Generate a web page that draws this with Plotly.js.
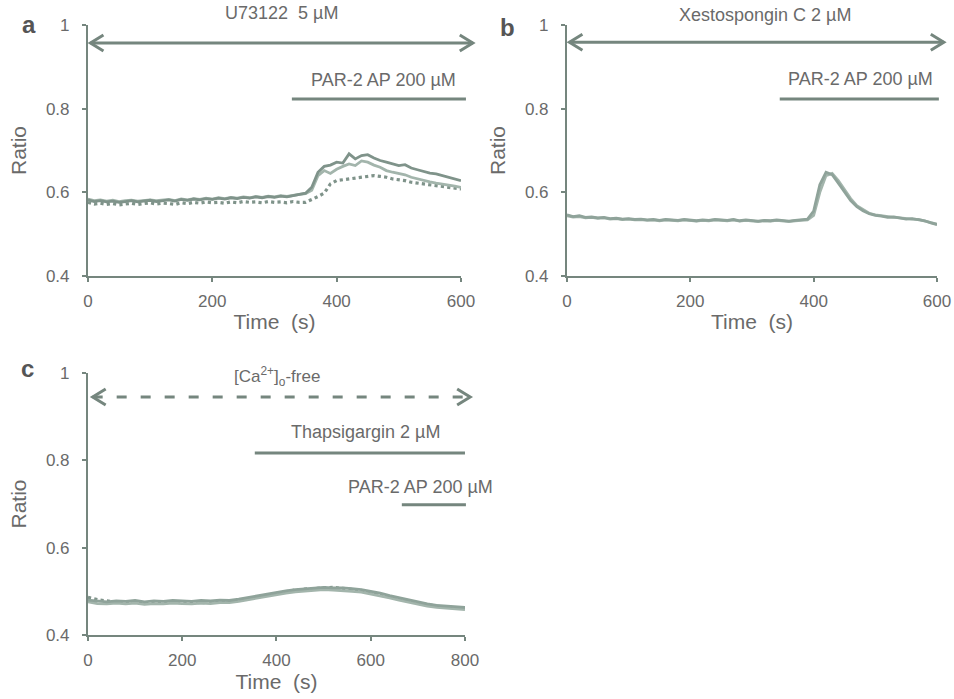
<!DOCTYPE html>
<html><head><meta charset="utf-8">
<script src="https://cdn.plot.ly/plotly-3.0.1.min.js"></script>
<style>html,body{margin:0;padding:0;background:#fff}#chart{width:954px;height:699px}</style>
</head><body><div id="chart"></div>
<script>
// ---- data ----
const timeAB = [0,10,20,30,40,50,60,70,80,90,100,110,120,130,140,150,160,170,180,190,200,210,220,230,240,250,260,270,280,290,300,310,320,330,340,350,360,370,380,390,400,410,420,430,440,450,460,470,480,490,500,510,520,530,540,550,560,570,580,590,600];
const ratioA1 = [0.582,0.578,0.580,0.577,0.579,0.576,0.578,0.580,0.577,0.579,0.581,0.578,0.580,0.582,0.579,0.583,0.581,0.584,0.582,0.585,0.583,0.586,0.584,0.587,0.585,0.588,0.586,0.589,0.587,0.590,0.588,0.591,0.589,0.592,0.594,0.598,0.612,0.648,0.662,0.665,0.672,0.670,0.692,0.680,0.688,0.690,0.682,0.676,0.672,0.668,0.664,0.666,0.658,0.654,0.650,0.646,0.644,0.640,0.636,0.632,0.628];
const ratioA2 = [0.584,0.580,0.582,0.579,0.581,0.578,0.580,0.581,0.579,0.580,0.582,0.580,0.581,0.583,0.580,0.584,0.582,0.585,0.583,0.586,0.584,0.587,0.585,0.588,0.586,0.589,0.587,0.590,0.588,0.591,0.589,0.592,0.590,0.593,0.595,0.597,0.605,0.640,0.652,0.645,0.655,0.662,0.668,0.664,0.675,0.672,0.665,0.660,0.652,0.648,0.645,0.642,0.636,0.632,0.628,0.625,0.622,0.620,0.618,0.615,0.612];
const ratioA3 = [0.576,0.572,0.574,0.571,0.573,0.570,0.572,0.574,0.571,0.573,0.575,0.572,0.574,0.573,0.571,0.575,0.573,0.576,0.574,0.577,0.575,0.576,0.574,0.577,0.575,0.578,0.576,0.577,0.575,0.578,0.576,0.577,0.575,0.578,0.576,0.576,0.582,0.590,0.598,0.620,0.628,0.630,0.632,0.634,0.636,0.638,0.640,0.638,0.636,0.632,0.630,0.628,0.624,0.622,0.620,0.618,0.616,0.614,0.612,0.610,0.608];
const ratioB1 = [0.546,0.542,0.544,0.540,0.541,0.539,0.540,0.537,0.538,0.536,0.537,0.535,0.536,0.534,0.535,0.533,0.535,0.534,0.533,0.535,0.534,0.532,0.534,0.533,0.535,0.534,0.533,0.535,0.532,0.534,0.533,0.531,0.533,0.532,0.534,0.533,0.531,0.533,0.534,0.536,0.555,0.618,0.648,0.642,0.622,0.600,0.580,0.566,0.556,0.549,0.545,0.543,0.540,0.541,0.538,0.536,0.537,0.534,0.532,0.527,0.523];
const ratioB2 = [0.544,0.541,0.542,0.539,0.540,0.538,0.539,0.536,0.537,0.535,0.536,0.534,0.535,0.533,0.534,0.532,0.534,0.533,0.532,0.534,0.533,0.531,0.533,0.532,0.534,0.533,0.532,0.534,0.531,0.533,0.532,0.530,0.532,0.531,0.533,0.532,0.530,0.532,0.533,0.534,0.545,0.600,0.640,0.645,0.628,0.606,0.585,0.568,0.558,0.550,0.546,0.544,0.541,0.540,0.539,0.537,0.536,0.535,0.531,0.528,0.524];
const timeC = [0,20,40,60,80,100,120,140,160,180,200,220,240,260,280,300,320,340,360,380,400,420,440,460,480,500,520,540,560,580,600,620,640,660,680,700,720,740,760,780,800];
const ratioC1 = [0.480,0.478,0.476,0.478,0.477,0.479,0.476,0.478,0.477,0.479,0.478,0.477,0.479,0.478,0.480,0.479,0.482,0.486,0.490,0.494,0.498,0.501,0.504,0.506,0.508,0.509,0.508,0.508,0.506,0.504,0.500,0.496,0.490,0.485,0.480,0.475,0.471,0.468,0.466,0.465,0.463];
const ratioC2 = [0.476,0.472,0.471,0.473,0.471,0.473,0.470,0.472,0.471,0.473,0.472,0.471,0.473,0.472,0.474,0.474,0.477,0.481,0.485,0.489,0.493,0.496,0.499,0.501,0.503,0.504,0.503,0.502,0.500,0.498,0.494,0.490,0.485,0.480,0.475,0.470,0.466,0.463,0.461,0.460,0.458];
const ratioC3 = [0.486,0.481,0.478,0.475,0.474,0.475,0.473,0.475,0.474,0.475,0.474,0.475,0.474,0.475,0.476,0.477,0.479,0.483,0.487,0.492,0.496,0.500,0.503,0.505,0.507,0.508,0.509,0.507,0.505,0.502,0.498,0.493,0.487,0.482,0.477,0.473,0.469,0.466,0.464,0.462,0.461];
const xTicksAB = [0,200,400,600];
const xTicksC = [0,200,400,600,800];
const yTicks = [0.4,0.6,0.8,1];

// ---- style ----
const lineCol = '#8fa39a', lineDark = '#7f938a', lineLight = '#a3b5ac', axisCol = '#75867e', textCol = '#6a6a6a';
const FONT = 'Liberation Sans, Arial, sans-serif';
const W = 954, H = 699;

const dom = {
  a: {x:[0.0922,0.4832], y:[0.6052,0.9642], xr:[0,600]},
  b: {x:[0.5943,0.9822], y:[0.6052,0.9642], xr:[0,600]},
  c: {x:[0.0922,0.4874], y:[0.0916,0.4664], xr:[0,800]}
};
const yr = [0.4,1];
function PX(p,v){const d=dom[p];return d.x[0]+(v-d.xr[0])/(d.xr[1]-d.xr[0])*(d.x[1]-d.x[0]);}
function PY(p,v){const d=dom[p];return d.y[0]+(v-yr[0])/(yr[1]-yr[0])*(d.y[1]-d.y[0]);}

function tr(x,y,xa,ya,col,dash,w){return {x:x,y:y,xaxis:xa,yaxis:ya,type:'scatter',mode:'lines',line:{color:col,width:w||2.8,dash:dash||'solid'},hoverinfo:'skip',showlegend:false};}
const data = [
  tr(timeAB,ratioA3,'x','y',lineDark,'dot',3.2),
  tr(timeAB,ratioA2,'x','y',lineLight),
  tr(timeAB,ratioA1,'x','y',lineDark),
  tr(timeAB,ratioB2,'x2','y2',lineLight),
  tr(timeAB,ratioB1,'x2','y2',lineCol),
  tr(timeC,ratioC3,'x3','y3',lineDark,'dot',3.2),
  tr(timeC,ratioC2,'x3','y3',lineLight),
  tr(timeC,ratioC1,'x3','y3',lineCol)
];

function xax(p,ticks,anchor){return {domain:dom[p].x,range:dom[p].xr,anchor:anchor,showline:true,linecolor:axisCol,linewidth:2,ticks:'outside',ticklen:4,tickwidth:2,tickcolor:axisCol,tickvals:ticks,showgrid:false,zeroline:false,ticklabelstandoff:5,tickfont:{family:FONT,size:17,color:textCol},title:{text:'Time  (s)',font:{family:FONT,size:21,color:textCol},standoff:4}};}
function yax(p,anchor){return {domain:dom[p].y,range:yr,anchor:anchor,showline:true,linecolor:axisCol,linewidth:2,ticks:'outside',ticklen:4,tickwidth:2,tickcolor:axisCol,tickvals:yTicks,showgrid:false,zeroline:false,ticklabelstandoff:9,tickfont:{family:FONT,size:17,color:textCol},title:{text:'Ratio',font:{family:FONT,size:21,color:textCol},standoff:14}};}

const ann = [], shp = [];
function txt(p,x,y,t,anchor,size){ann.push({xref:'paper',yref:'paper',x:PX(p,x),y:PY(p,y),text:t,showarrow:false,xanchor:anchor||'center',yanchor:'middle',font:{family:FONT,size:size||18,color:textCol}});}
function hline(x0,x1,y,dash){shp.push({type:'line',xref:'paper',yref:'paper',x0:x0,x1:x1,y0:y,y1:y,line:{color:axisCol,width:3,dash:dash||'solid'}});}
function bar(p,x0,x1,y){hline(PX(p,x0),PX(p,x1),PY(p,y));}
function chevron(xp,yp,dir){ // dir +1 points right, -1 points left
  const dx = 13/W*dir, dy = 8/H;
  shp.push({type:'path',xref:'paper',yref:'paper',path:'M '+(xp-dx)+' '+(yp+dy)+' L '+xp+' '+yp+' L '+(xp-dx)+' '+(yp-dy),line:{color:axisCol,width:3}});
}
function dblArrow(p,x0,x1,y,dash){
  const xa=PX(p,x0), xb=PX(p,x1), yp=PY(p,y);
  hline(xa,xb,yp,dash);
  chevron(xb,yp,1); chevron(xa,yp,-1);
}
// panel a
txt('a',312,1.029,'U73122  5 µM');
dblArrow('a',4,619,0.957);
txt('a',596,0.869,'PAR-2 AP 200 µM','right');
bar('a',328,608,0.823);
// panel b
txt('b',321,1.024,'Xestospongin C 2 µM');
dblArrow('b',4,611,0.959);
txt('b',597,0.871,'PAR-2 AP 200 µM','right');
bar('b',345,603,0.823);
// panel c
txt('c',401,0.993,'[Ca<sup>2+</sup>]<sub>o</sub>-free','center',17);
dblArrow('c',10,811,0.945,'10px,14px');
txt('c',751,0.865,'Thapsigargin 2 µM','right');
bar('c',354,800,0.817);
txt('c',864,0.739,'PAR-2 AP 200 µM','right');
bar('c',666,802,0.698);
// panel letters
function letter(x,y,t){ann.push({xref:'paper',yref:'paper',x:x/W,y:1-y/H,text:'<b>'+t+'</b>',showarrow:false,xanchor:'center',yanchor:'middle',font:{family:FONT,size:24,color:'#555'}});}
letter(29,25,'a');
letter(508,27,'b');
letter(27,368,'c');

const layout = {
  width:W,height:H,margin:{l:0,r:0,t:0,b:0,autoexpand:false},
  paper_bgcolor:'#fff',plot_bgcolor:'rgba(0,0,0,0)',showlegend:false,
  font:{family:FONT,color:textCol},
  xaxis:xax('a',xTicksAB,'y'), yaxis:yax('a','x'),
  xaxis2:xax('b',xTicksAB,'y2'), yaxis2:yax('b','x2'),
  xaxis3:xax('c',xTicksC,'y3'), yaxis3:yax('c','x3'),
  annotations:ann, shapes:shp
};
Plotly.newPlot('chart',data,layout,{displayModeBar:false,staticPlot:true});
</script>
</body></html>
